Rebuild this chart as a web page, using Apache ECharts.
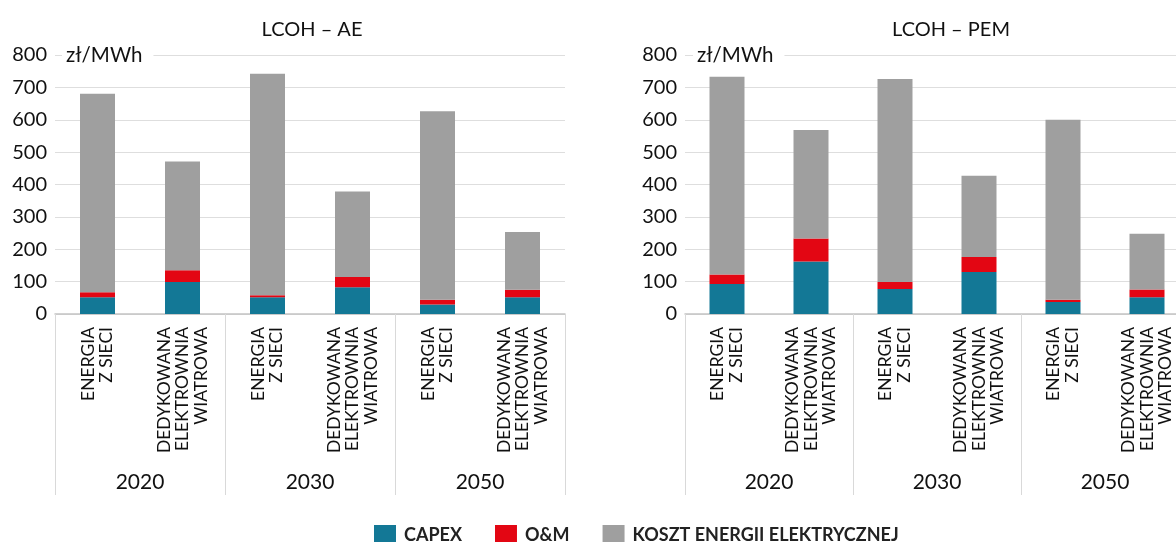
<!DOCTYPE html>
<html>
<head>
<meta charset="utf-8">
<script src="https://cdn.jsdelivr.net/npm/echarts@6/dist/echarts.min.js"></script>
<style>
  html, body { margin: 0; padding: 0; background: #fff; }
  #chart { width: 1176px; height: 542px; }
</style>
</head>
<body>
<div id="chart"></div>
<script>
// Technology options, repeated for each year group
const categories = [
  'ENERGIA\nZ SIECI', 'DEDYKOWANA\nELEKTROWNIA\nWIATROWA',
  'ENERGIA\nZ SIECI', 'DEDYKOWANA\nELEKTROWNIA\nWIATROWA',
  'ENERGIA\nZ SIECI', 'DEDYKOWANA\nELEKTROWNIA\nWIATROWA'
];
const years = ['2020', '2030', '2050'];
const yTicks = { min: 0, max: 800, interval: 100 };
const seriesNames = ['CAPEX', 'O&M', 'KOSZT ENERGII ELEKTRYCZNEJ'];

// LCOH – AE components (zł/MWh)
const aeCapex  = [52, 99, 52, 83, 29, 52];
const aeOm     = [15, 36, 6, 31, 15, 23];
const aeEnergy = [613, 336, 684, 264, 582, 178];

// LCOH – PEM components (zł/MWh)
const pemCapex  = [93, 162, 77, 130, 37, 52];
const pemOm     = [29, 71, 22, 46, 7, 24];
const pemEnergy = [611, 335, 627, 251, 556, 172];

const colors = ['#137896', '#e30613', '#9f9f9f'];
const FONT = 'Lato';
const INK = '#111';

function catAxis(grid) {
  return {
    type: 'category', gridIndex: grid, data: categories,
    axisLine: { lineStyle: { color: '#c4c4c4', width: 1.5 } },
    axisTick: { show: false },
    axisLabel: {
      interval: 0, rotate: 90, margin: 13, fontSize: 17.5, lineHeight: 18.5,
      color: INK, fontFamily: FONT
    }
  };
}
function yearAxis(grid) {
  return {
    type: 'category', gridIndex: grid, data: years, position: 'bottom',
    axisLine: { show: false },
    axisTick: { show: true, length: 181, lineStyle: { color: '#d9d9d9', width: 1 } },
    axisLabel: { interval: 0, margin: 158, fontSize: 21, color: INK, fontFamily: FONT }
  };
}
function valAxis(grid) {
  return {
    type: 'value', gridIndex: grid, min: yTicks.min, max: yTicks.max, interval: yTicks.interval,
    axisLine: { show: false }, axisTick: { show: false },
    splitLine: { lineStyle: { color: '#dedede', width: 1 } },
    axisLabel: { margin: 8, fontSize: 20, color: INK, fontFamily: FONT }
  };
}
function barSeries(name, data, idx, axisIdx, stack) {
  return {
    name, type: 'bar', stack, data,
    xAxisIndex: axisIdx, yAxisIndex: axisIdx / 2,
    barWidth: 35,
    itemStyle: { color: colors[idx] },
    emphasis: { disabled: true }
  };
}

// Unit label sitting on the top gridline, masking it with a white box
const unitLabel = (x) => ({
  type: 'text', x, y: 55, z: 10,
  style: {
    text: 'zł/MWh', fill: INK, font: '20.5px ' + FONT,
    verticalAlign: 'middle', align: 'left',
    backgroundColor: '#fff', padding: [2, 11, 2, 4]
  }
});

const chart = echarts.init(document.getElementById('chart'), null, { renderer: 'canvas' });
chart.setOption({
  animation: false,
  textStyle: { fontFamily: FONT },
  title: [
    { text: 'LCOH – AE', left: 307, top: 15, textAlign: 'center',
      textStyle: { fontSize: 20, fontWeight: 'normal', color: INK, fontFamily: FONT } },
    { text: 'LCOH – PEM', left: 946, top: 15, textAlign: 'center',
      textStyle: { fontSize: 20, fontWeight: 'normal', color: INK, fontFamily: FONT } }
  ],
  graphic: [unitLabel(62), unitLabel(693)],
  legend: {
    data: seriesNames, left: 369, top: 520,
    itemWidth: 22, itemHeight: 21, itemGap: 33, icon: 'rect',
    textStyle: { fontSize: 18, fontWeight: 'bold', color: '#222', fontFamily: FONT, padding: [0, 0, 0, 3] }
  },
  grid: [
    { left: 55, width: 510, top: 55, height: 259, outerBoundsMode: 'none' },
    { left: 685, width: 504, top: 55, height: 259, outerBoundsMode: 'none' }
  ],
  xAxis: [catAxis(0), yearAxis(0), catAxis(1), yearAxis(1)],
  yAxis: [valAxis(0), valAxis(1)],
  series: [
    barSeries(seriesNames[0], aeCapex, 0, 0, 'ae'),
    barSeries(seriesNames[1], aeOm, 1, 0, 'ae'),
    barSeries(seriesNames[2], aeEnergy, 2, 0, 'ae'),
    barSeries(seriesNames[0], pemCapex, 0, 2, 'pem'),
    barSeries(seriesNames[1], pemOm, 1, 2, 'pem'),
    barSeries(seriesNames[2], pemEnergy, 2, 2, 'pem')
  ]
});
</script>
</body>
</html>
